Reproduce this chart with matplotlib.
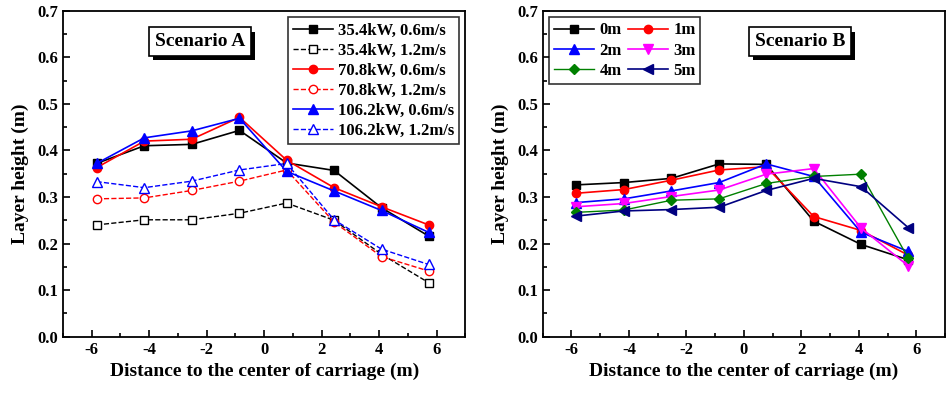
import matplotlib
matplotlib.use('Agg')
import matplotlib.pyplot as plt
import matplotlib.patheffects as pe
from matplotlib.ticker import MultipleLocator
import numpy as np

plt.rcParams['font.family'] = ['Liberation Serif', 'DejaVu Serif']
plt.rcParams['font.weight'] = 'bold'
plt.rcParams['axes.unicode_minus'] = False

# positions along the carriage (m)
x = np.array([-5.83, -4.17, -2.52, -0.86, 0.78, 2.43, 4.08, 5.72])

# Scenario A
a_labels = ["35.4kW, 0.6m/s", "35.4kW, 1.2m/s", "70.8kW, 0.6m/s",
            "70.8kW, 1.2m/s", "106.2kW, 0.6m/s", "106.2kW, 1.2m/s"]
a_354_06 = [0.372, 0.410, 0.413, 0.443, 0.373, 0.357, 0.277, 0.216]
a_354_12 = [0.240, 0.251, 0.251, 0.265, 0.287, 0.250, 0.177, 0.116]
a_708_06 = [0.363, 0.420, 0.424, 0.471, 0.379, 0.320, 0.279, 0.240]
a_708_12 = [0.296, 0.298, 0.314, 0.334, 0.358, 0.246, 0.172, 0.141]
a_1062_06 = [0.372, 0.427, 0.442, 0.469, 0.355, 0.313, 0.271, 0.224]
a_1062_12 = [0.333, 0.320, 0.334, 0.358, 0.372, 0.251, 0.188, 0.155]

# Scenario B
b_labels = ["0m", "1m", "2m", "3m", "4m", "5m"]
b_0 = [0.326, 0.331, 0.340, 0.371, 0.370, 0.248, 0.198, 0.165]
b_1 = [0.308, 0.316, 0.336, 0.358, 0.365, 0.258, 0.228, 0.175]
b_2 = [0.288, 0.296, 0.313, 0.331, 0.371, 0.344, 0.224, 0.183]
b_3 = [0.279, 0.286, 0.301, 0.315, 0.349, 0.361, 0.233, 0.152]
b_4 = [0.267, 0.272, 0.293, 0.296, 0.329, 0.344, 0.349, 0.168]
b_5 = [0.259, 0.270, 0.273, 0.278, 0.314, 0.340, 0.322, 0.234]

fig = plt.figure(figsize=(9.47, 3.94), dpi=100)
ax1 = fig.add_axes([0.0665, 0.1455, 0.425, 0.8273])
ax2 = fig.add_axes([0.573, 0.1455, 0.425, 0.8273])

# Scenario A plot
ms = 6
ax1.plot(x, a_354_06, "k-", marker="s", ms=ms, lw=1.2, label=a_labels[0])
ax1.plot(x, a_354_12, "k--", marker="s", ms=ms, lw=1.0, mfc="white", label=a_labels[1])
ax1.plot(x, a_708_06, "r-", marker="o", ms=ms, lw=1.2, label=a_labels[2])
ax1.plot(x, a_708_12, "r--", marker="o", ms=ms, lw=1.0, mfc="white", label=a_labels[3])
ax1.plot(x, a_1062_06, "b-", marker="^", ms=ms + 1, lw=1.2, label=a_labels[4])
ax1.plot(x, a_1062_12, "b--", marker="^", ms=ms + 1, lw=1.0, mfc="white", label=a_labels[5])

# Scenario B plot
ax2.plot(x, b_0, "-", color="black", marker="s", ms=ms, lw=1.2, label=b_labels[0])
ax2.plot(x, b_1, "-", color="red", marker="o", ms=ms, lw=1.2, label=b_labels[1])
ax2.plot(x, b_2, "-", color="blue", marker="^", ms=ms + 1, lw=1.2, label=b_labels[2])
ax2.plot(x, b_3, "-", color="magenta", marker="v", ms=ms + 1, lw=1.2, label=b_labels[3])
ax2.plot(x, b_4, "-", color="green", marker="D", ms=ms - 1, lw=1.0, label=b_labels[4])
ax2.plot(x, b_5, "-", color="navy", marker="<", ms=ms + 1, lw=1.2, label=b_labels[5])

for ax in (ax1, ax2):
    ax.set_xlim(-7, 7)
    ax.set_ylim(0, 0.7)
    ax.xaxis.set_major_locator(MultipleLocator(2))
    ax.xaxis.set_minor_locator(MultipleLocator(1))
    ax.yaxis.set_major_locator(MultipleLocator(0.1))
    ax.yaxis.set_minor_locator(MultipleLocator(0.05))
    ax.tick_params(which="both", direction="in", top=False, right=False, labelsize=12, width=1.2)
    ax.tick_params(which="major", length=5)
    ax.tick_params(which="minor", length=3)
    ax.yaxis.set_major_formatter(matplotlib.ticker.FormatStrFormatter("%.1f"))
    for s in ax.spines.values():
        s.set_linewidth(1.3)
    ax.set_xlabel("Distance to the center of carriage (m)", fontsize=14, fontweight="bold", labelpad=4)
    ax.set_ylabel("Layer height (m)", fontsize=14, fontweight="bold", labelpad=6)

leg1 = ax1.legend(loc="upper right", fontsize=12, frameon=True, fancybox=False,
                  edgecolor="black", handlelength=2.4, handletextpad=0.3,
                  borderpad=0.3, labelspacing=0.25, borderaxespad=0.4)
leg1.get_frame().set_linewidth(1.2)

# row-wise order for the two-column legend
h, l = ax2.get_legend_handles_labels()
order = [0, 2, 4, 1, 3, 5]
leg2 = ax2.legend([h[i] for i in order], [l[i] for i in order],
                  loc="upper left", ncol=2, fontsize=12, frameon=True, fancybox=False,
                  edgecolor="black", handlelength=2.4, handletextpad=0.3,
                  borderpad=0.3, labelspacing=0.25, columnspacing=0.4, borderaxespad=0.4)
leg2.get_frame().set_linewidth(1.2)


def scen_box(ax, xx, yy, txt):
    t = ax.text(xx, yy, txt, transform=ax.transAxes, fontsize=14, fontweight="bold",
                ha="center", va="center",
                bbox=dict(boxstyle="square,pad=0.3", fc="white", ec="black", lw=1.2))
    t.get_bbox_patch().set_path_effects([
        pe.SimplePatchShadow(offset=(3, -3), shadow_rgbFace="black", alpha=1.0),
        pe.Normal()])


scen_box(ax1, 0.34, 0.905, "Scenario A")
scen_box(ax2, 0.64, 0.905, "Scenario B")

plt.savefig("out.png", dpi=100)
